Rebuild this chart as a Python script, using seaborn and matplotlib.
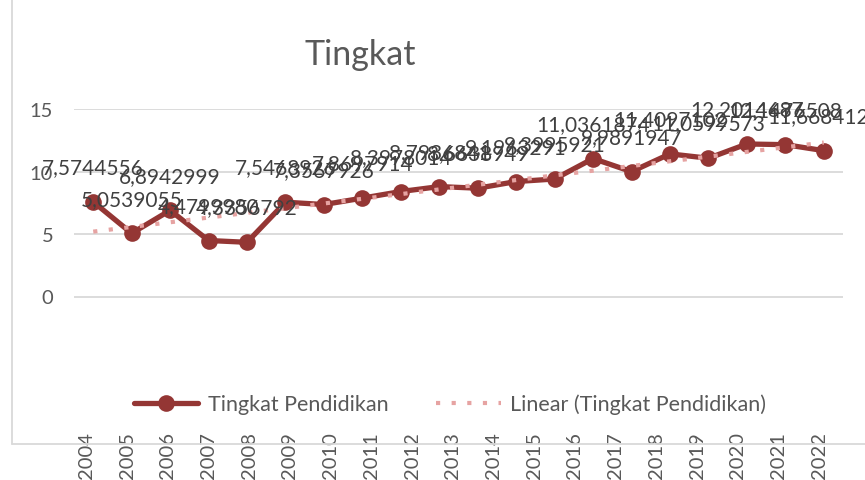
import numpy as np
import matplotlib
matplotlib.use("Agg")
import matplotlib.pyplot as plt
from matplotlib.lines import Line2D
import seaborn as sns

# values (20 points, 19 year labels on the axis)
values = [7.5744556, 5.0539055, 6.8942999, 4.4799980, 4.3356792,
          7.5468926, 7.3567926, 7.8697914, 8.3978014, 8.7936841,
          8.6638949, 9.1963291, 9.3995921, 11.0361874, 9.9891947,
          11.4097102, 11.0599573, 12.2014687, 12.1476508, 11.6684123]
years = [str(y) for y in range(2004, 2023)]
series_name = "Tingkat Pendidikan"
trend_name = "Linear (Tingkat Pendidikan)"
title = "Tingkat"

LINE = "#943634"
TREND = "#e6a3a2"
GRID = "#d9d9d9"
TXT = "#595959"

sns.set_style("white")
plt.rcParams["font.family"] = ["Lato", "DejaVu Sans"]

W, H = 865, 481
fig = plt.figure(figsize=(W / 100, H / 100), dpi=100)
ax = fig.add_axes([74 / W, 36 / H, 769 / W, 335 / H])

idx = np.arange(len(values))
slope, icpt = np.polyfit(idx, values, 1)
trend = icpt + slope * idx

sns.lineplot(x=idx, y=values, ax=ax, color=LINE, lw=3.8, marker="o", markersize=12,
             markeredgewidth=0, label=series_name, zorder=3)
sns.lineplot(x=idx, y=trend, ax=ax, color=TREND, lw=3, label=trend_name, zorder=4,
             dashes=False)
ax.lines[1].set_linestyle((0, (1, 2.75)))
ax.lines[1].set_dash_capstyle("butt")

# data labels (they overlap in the original too)
for i, v in zip(idx, values):
    ax.annotate(f"{v:.7f}".replace(".", ","), (i, v), xytext=(0, 25),
                textcoords="offset points", ha="center", va="center",
                fontsize=15, color="#404040", zorder=5, annotation_clip=False)

ax.set_xlim(-0.5, len(values) - 0.5)
ax.set_ylim(-11.8, 15)
ax.set_yticks([0, 5, 10, 15])
ax.set_yticklabels(["0", "5", "10", "15"])
ax.yaxis.grid(True, color=GRID, lw=1.3)
ax.xaxis.grid(False)
for s in ax.spines.values():
    s.set_visible(False)
ax.tick_params(axis="y", length=0, pad=15, labelsize=14.5, labelcolor=TXT)

ax.set_xticks(np.linspace(-0.18, 18.88, len(years)))
ax.set_xticklabels(years, rotation=90)
ax.tick_params(axis="x", length=0, pad=-9, labelsize=14.5, labelcolor=TXT)
ax.set_xlabel("")
ax.set_ylabel("")

handles, labels = ax.get_legend_handles_labels()
ax.get_legend().remove()
fig.legend(handles, labels, loc="center", bbox_to_anchor=(450 / W, 1 - 405 / H),
           ncol=2, frameon=False, fontsize=15.5, labelcolor=TXT, handlelength=3.0,
           handletextpad=0.46, columnspacing=2.2)

fig.text(360 / W, 1 - 55 / H, title, ha="center", va="center", fontsize=24.5, color=TXT)

# chart frame (left and bottom edges visible)
fig.add_artist(Line2D([12 / W, 12 / W], [36 / H, 1], transform=fig.transFigure,
                      color=GRID, lw=1.3))
fig.add_artist(Line2D([12 / W, 1], [36 / H, 36 / H], transform=fig.transFigure,
                      color=GRID, lw=1.3))

fig.savefig("out.png", dpi=100)
